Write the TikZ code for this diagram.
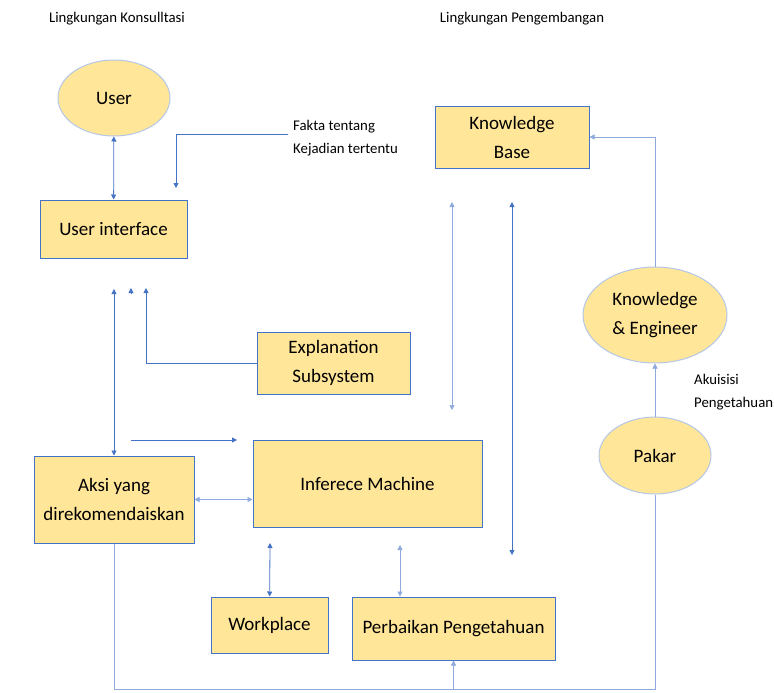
\documentclass[tikz,border=0pt]{standalone}
\usepackage{fontspec}
\setmainfont{Carlito}
\usetikzlibrary{shapes.geometric,arrows.meta}
\definecolor{boxfill}{HTML}{FFE699}
\definecolor{boxline}{HTML}{4472C4}
\definecolor{ovalline}{HTML}{B4C7E7}
\definecolor{faintline}{HTML}{8FAADC}
\def\big{\fontsize{19}{29}\selectfont}
\def\small{\fontsize{14.8}{23}\selectfont}

\begin{document}
\begin{tikzpicture}[x=1pt,y=-1pt,>={Triangle[length=5pt,width=5pt]}]
\tikzset{box/.style={draw=boxline,fill=boxfill,line width=1pt,align=center,inner sep=0pt,font=\big},
  oval/.style={ellipse,draw=ovalline,fill=boxfill,line width=1pt,align=center,inner sep=0pt,font=\big},
  link/.style={draw=boxline,line width=0.8pt},
  faint/.style={draw=faintline,line width=0.5pt},
  note/.style={font=\small,align=left,inner sep=0pt}}
\useasboundingbox (0,0) rectangle (774,693);
\node[note] (t1) at (117,19) {Lingkungan Konsulltasi};
\node[note] (t2) at (522,19) {Lingkungan Pengembangan};
\node[oval,minimum width=112,minimum height=76] (user) at (114,98) {User};
\node[box,minimum width=147,minimum height=58] (ui) at (113.5,229) {User interface};
\node[note,anchor=west] (fakta) at (293,138.5) {Fakta tentang\\Kejadian tertentu};
\node[box,minimum width=153,minimum height=62] (expl) at (333.5,363) {Explanation\\Subsystem};
\node[box,minimum width=160,minimum height=87] (aksi) at (114,499.5) {Aksi yang\\direkomendaiskan};
\node[box,minimum width=229,minimum height=87] (im) at (367.5,483.5) {Inferece Machine};
\node[box,minimum width=117,minimum height=56] (work) at (269.5,625) {Workplace};
\node[box,minimum width=203,minimum height=63] (perb) at (453.5,628.5) {Perbaikan Pengetahuan};
\node[box,minimum width=154,minimum height=62] (kb) at (512,137) {Knowledge\\Base};
\node[oval,minimum width=144,minimum height=96] (ke) at (655,315) {Knowledge\\\& Engineer};
\node[oval,minimum width=112,minimum height=77] (pakar) at (655,455.5) {Pakar};
\node[note,anchor=west] (akui) at (694,392) {Akuisisi\\Pengetahuan};
% free ends
\coordinate (fk) at (288,134);
\coordinate (fkend) at (176,188);
\coordinate (up1) at (114,289);
\coordinate (up2a) at (131,293);
\coordinate (up2b) at (131,288);
\coordinate (up3) at (146,288);
\coordinate (hl) at (131,440);
\coordinate (hr) at (237,440);
\coordinate (w1) at (270,543);
\coordinate (p1) at (400,545);
\coordinate (k1) at (452,202);
\coordinate (k2) at (452,410);
\coordinate (k3) at (512,202);
\coordinate (k4) at (512,555);
\coordinate (bot) at (655,689);
\draw[link,<->] (user) -- (ui);
\draw[link,->] (fk) -| (fkend);
\draw[link,<->] (up1) -- (aksi);
\draw[link,->] (up2a) -- (up2b);
\draw[link,->] (expl.west) -| (up3);
\draw[link,->] (hl) -- (hr);
\draw[faint,<->] (aksi.east) -- (aksi.east -| im.west);
\draw[link,<->] (w1) -- (work);
\draw[faint,<->] (p1) -- (p1 |- perb.north);
\draw[faint,<->] (k1) -- (k2);
\draw[link,<->] (k3) -- (k4);
\draw[faint,->] (ke.north) |- (kb.east);
\draw[faint,->] (pakar.north) -- (ke.south);
\draw[faint] (aksi.south) |- (bot) -- (pakar.south);
\draw[faint,->] (perb.south |- bot) -- (perb.south);
\end{tikzpicture}
\end{document}
